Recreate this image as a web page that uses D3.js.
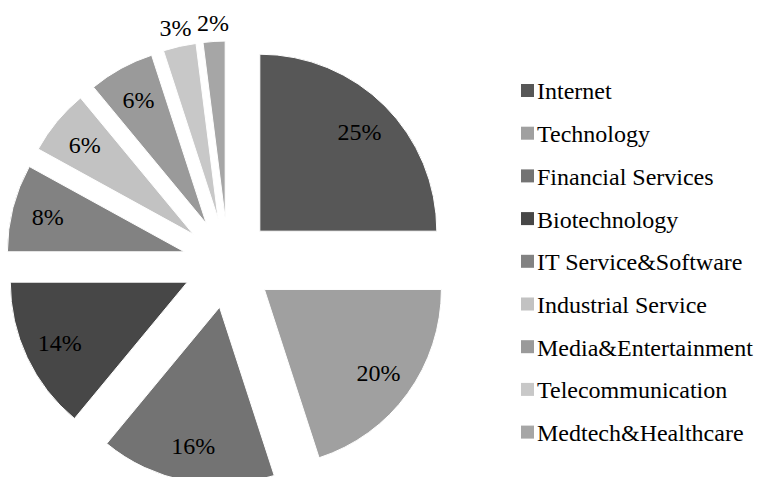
<!DOCTYPE html>
<meta charset="utf-8">
<script src="https://d3js.org/d3.v7.min.js"></script>
<style>
  body { margin: 0; background: #fff; }
</style>
<div id="chart"></div>
<script>

// data
var sectors = ["Internet", "Technology", "Financial Services", "Biotechnology",
               "IT Service&Software", "Industrial Service", "Media&Entertainment",
               "Telecommunication", "Medtech&Healthcare"];
var shares = [25, 20, 16, 14, 8, 6, 6, 3, 2];
var greys = ["#575757", "#a0a0a0", "#737373", "#474747", "#828282",
             "#c2c2c2", "#9a9a9a", "#c8c8c8", "#a6a6a6"];

var width = 758, height = 477;
var cx = 228, cy = 263, radius = 177, explode = 45;
var serif = "'Liberation Serif'";

var svg = d3.select("#chart").append("svg")
    .attr("width", width)
    .attr("height", height);

var color = d3.scaleOrdinal().domain(sectors).range(greys);

var pie = d3.pie().sort(null).value(function(d, i) { return shares[i]; });
var arcs = pie(sectors);

var arc = d3.arc().innerRadius(0).outerRadius(radius);

var g = svg.append("g").attr("transform", "translate(" + cx + "," + cy + ")");

function mid(d) { return (d.startAngle + d.endAngle) / 2; }

var slice = g.selectAll("g.slice")
  .data(arcs)
  .enter().append("g")
    .attr("class", "slice")
    .attr("transform", function(d) {
      var a = mid(d);
      return "translate(" + (explode * Math.sin(a)) + "," + (-explode * Math.cos(a)) + ")";
    });

slice.append("path")
    .attr("d", arc)
    .attr("fill", function(d) { return color(d.data); })
    .attr("stroke", "#fff")
    .attr("stroke-width", 1);

// small slices get their label outside the rim
function labelR(d) { return (d.value < 5) ? radius + 19 : 141; }

slice.append("text")
    .attr("x", function(d) { return labelR(d) * Math.sin(mid(d)); })
    .attr("y", function(d) { return -labelR(d) * Math.cos(mid(d)); })
    .attr("dy", "0.35em")
    .attr("text-anchor", "middle")
    .style("font-family", serif)
    .style("font-size", "24px")
    .attr("fill", "#000")
    .text(function(d) { return d.value + "%"; });

// legend
var legend = svg.append("g").attr("transform", "translate(521,91)");

var row = legend.selectAll("g")
  .data(sectors)
  .enter().append("g")
    .attr("transform", function(d, i) { return "translate(0," + (i * 42.7) + ")"; });

row.append("rect")
    .attr("x", 0)
    .attr("y", -7)
    .attr("width", 13)
    .attr("height", 13)
    .attr("fill", function(d) { return color(d); });

row.append("text")
    .attr("x", 16)
    .attr("y", 0)
    .attr("dy", "0.35em")
    .style("font-family", serif)
    .style("font-size", "24px")
    .attr("fill", "#000")
    .text(function(d) { return d; });

</script>
